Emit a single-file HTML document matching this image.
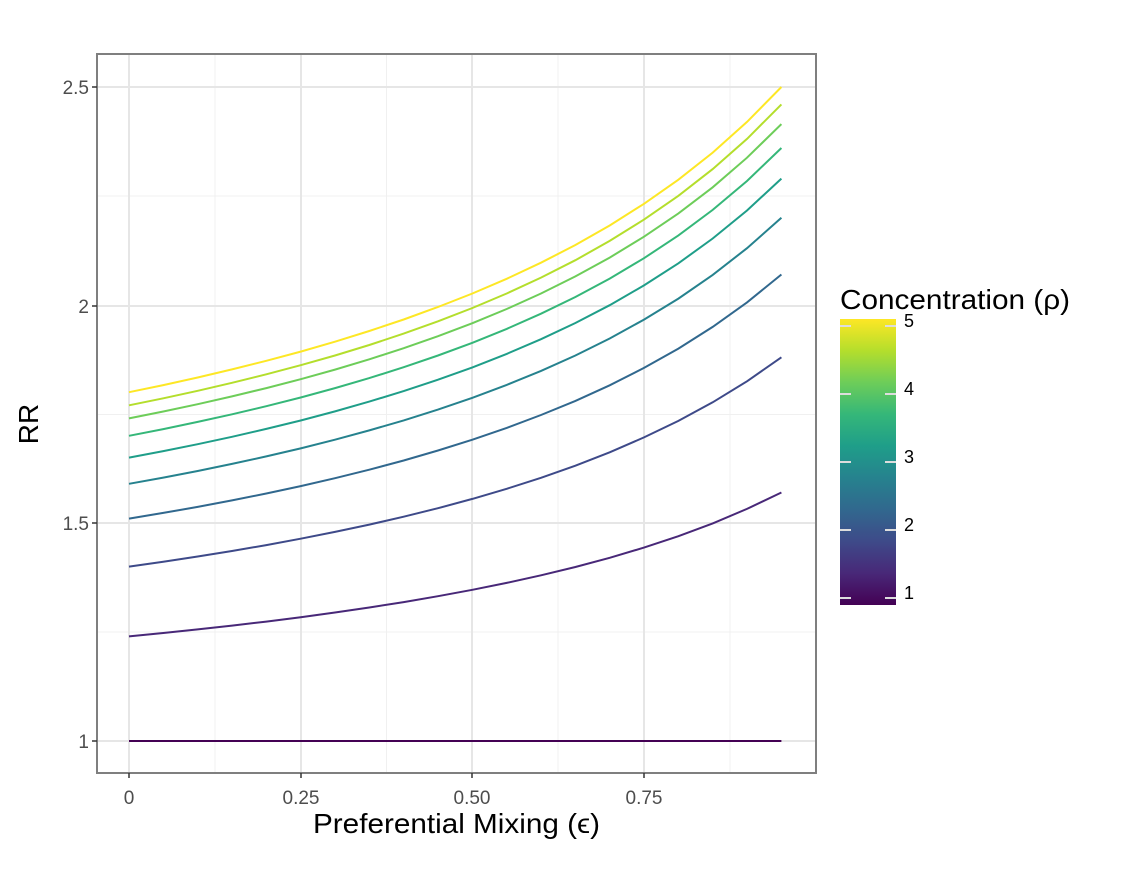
<!DOCTYPE html>
<html><head><meta charset="utf-8"><style>
html,body{margin:0;padding:0;background:#fff;}
text{font-family:"Liberation Sans",sans-serif;}
</style></head><body>
<svg id="s" width="1136" height="886" xmlns="http://www.w3.org/2000/svg">
<defs>
<linearGradient id="vg" x1="0" y1="1" x2="0" y2="0">
<stop offset="0" stop-color="#440154"/><stop offset="0.111" stop-color="#482878"/>
<stop offset="0.222" stop-color="#3E4A89"/><stop offset="0.333" stop-color="#31688E"/>
<stop offset="0.444" stop-color="#26828E"/><stop offset="0.556" stop-color="#1F9E89"/>
<stop offset="0.667" stop-color="#35B779"/><stop offset="0.778" stop-color="#6DCD59"/>
<stop offset="0.889" stop-color="#B4DE2C"/><stop offset="1" stop-color="#FDE725"/>
</linearGradient>
</defs>
<rect x="97" y="54" width="719" height="719" fill="#fff"/>
<g id="grid"></g>
<g id="lines"></g>
<rect x="97" y="54" width="719" height="719" fill="none" stroke="#7f7f7f" stroke-width="2"/>
<g fill="#4d4d4d" font-size="19">
<text x="89" y="94" text-anchor="end">2.5</text>
<text x="89" y="313" text-anchor="end">2</text>
<text x="89" y="530" text-anchor="end">1.5</text>
<text x="89" y="748" text-anchor="end">1</text>
<text x="129" y="804" text-anchor="middle">0</text>
<text x="301" y="804" text-anchor="middle">0.25</text>
<text x="472" y="804" text-anchor="middle">0.50</text>
<text x="644" y="804" text-anchor="middle">0.75</text>
</g>
<g stroke="#333" stroke-width="1.5">
<line x1="92" y1="87" x2="97" y2="87"/><line x1="92" y1="306" x2="97" y2="306"/>
<line x1="92" y1="523" x2="97" y2="523"/><line x1="92" y1="741" x2="97" y2="741"/>
<line x1="129" y1="773" x2="129" y2="778"/><line x1="301" y1="773" x2="301" y2="778"/>
<line x1="472" y1="773" x2="472" y2="778"/><line x1="644" y1="773" x2="644" y2="778"/>
</g>
<text x="313" y="833" font-size="28" textLength="287" lengthAdjust="spacingAndGlyphs">Preferential Mixing (ϵ)</text>
<text transform="translate(38,424) rotate(-90)" text-anchor="middle" font-size="28">RR</text>
<text x="840" y="309" font-size="28" textLength="230" lengthAdjust="spacingAndGlyphs">Concentration (ρ)</text>
<rect x="840" y="319" width="56" height="286" fill="url(#vg)"/>
<g stroke="#ddd" stroke-width="2">
<line x1="840" y1="598" x2="851" y2="598"/><line x1="885" y1="598" x2="896" y2="598"/>
<line x1="840" y1="530" x2="851" y2="530"/><line x1="885" y1="530" x2="896" y2="530"/>
<line x1="840" y1="462" x2="851" y2="462"/><line x1="885" y1="462" x2="896" y2="462"/>
<line x1="840" y1="394" x2="851" y2="394"/><line x1="885" y1="394" x2="896" y2="394"/>
<line x1="840" y1="326" x2="851" y2="326"/><line x1="885" y1="326" x2="896" y2="326"/>
</g>
<g font-size="18" fill="#000">
<text x="904" y="599">1</text><text x="904" y="531">2</text><text x="904" y="463">3</text>
<text x="904" y="395">4</text><text x="904" y="327">5</text>
</g>
</svg>
<script>
function X(e){return 129+e*686.7;}
function Y(v){return 741-(v-1)*436;}
var g=document.getElementById("grid"),h="";
[87+109,306+108.5,523+109].forEach(function(y){h+='<line x1="97" x2="816" y1="'+y+'" y2="'+y+'" stroke="#f0f0f0" stroke-width="1"/>';});
[215,386.5,558,730].forEach(function(x){h+='<line y1="54" y2="773" x1="'+x+'" x2="'+x+'" stroke="#f0f0f0" stroke-width="1"/>';});
[87,306,523,741].forEach(function(y){h+='<line x1="97" x2="816" y1="'+y+'" y2="'+y+'" stroke="#e6e6e6" stroke-width="2"/>';});
[129,301,472,644].forEach(function(x){h+='<line y1="54" y2="773" x1="'+x+'" x2="'+x+'" stroke="#e6e6e6" stroke-width="2"/>';});
g.innerHTML=h;
var cols=["#440154","#482878","#3E4A89","#31688E","#26828E","#1F9E89","#35B779","#6DCD59","#B4DE2C","#FDE725"];
var s0=[1,1.24,1.40,1.51,1.59,1.65,1.70,1.74,1.77,1.80];
var s1=[1,1.57,1.88,2.07,2.20,2.29,2.36,2.415,2.46,2.50];
var k=0.6,den=1/(1-0.95*k)-1;
var L="";
for(var i=0;i<10;i++){
 var d="";
 for(var j=0;j<=19;j++){var e=j*0.05;var f=(1/(1-k*e)-1)/den;var v=s0[i]+(s1[i]-s0[i])*f;
  d+=(j?"L":"M")+X(e).toFixed(1)+","+Y(v).toFixed(1);}
 L+='<path d="'+d+'" fill="none" stroke="'+cols[i]+'" stroke-width="2"/>';
}
document.getElementById("lines").innerHTML=L;
</script>
</body></html>
